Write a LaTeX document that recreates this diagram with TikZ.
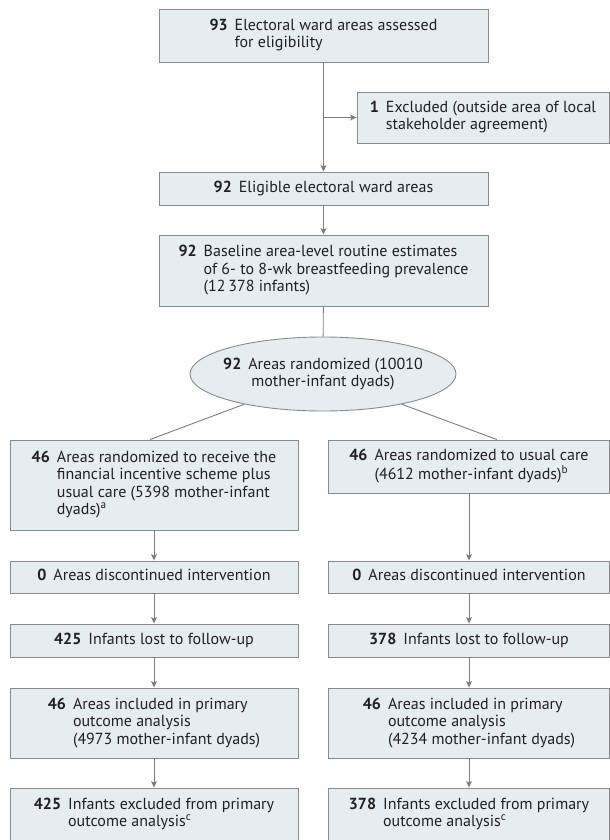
\documentclass[tikz,border=0pt]{standalone}
\usepackage{fontspec}
\setmainfont{PT Sans}
\usepackage{tikz}
\usetikzlibrary{arrows.meta,shapes.geometric}

\definecolor{boxfill}{RGB}{230,237,241}
\definecolor{boxline}{RGB}{138,138,138}
\definecolor{linkgray}{RGB}{125,125,125}
\definecolor{txtcol}{RGB}{35,31,32}

% bold count, then the text lines hanging beside it
\newcommand{\cnt}[2]{\textbf{#1}\hspace{7bp}\begin{tabular}[t]{@{}l@{}}#2\end{tabular}}

\begin{document}
\begin{tikzpicture}[x=1bp, y=-1bp,
	font=\fontsize{16bp}{17.5bp}\selectfont, text=txtcol,
	box/.style={draw=boxline, fill=boxfill, line width=0.9bp, inner sep=0pt},
	oval/.style={ellipse, draw=boxline, fill=boxfill, line width=0.9bp, inner xsep=-8bp, inner ysep=0pt, align=center},
	link/.style={every edge/.style={draw=linkgray, line width=0.9bp, -{Stealth[length=6.5bp, width=6bp, inset=1.5bp]}}},
	plain/.style={every edge/.style={draw=linkgray, line width=0.9bp}}]
\useasboundingbox (0,0) rectangle (610,840);

\node[box, minimum width=329bp, minimum height=53bp] (top) at (323.5,35.5)
	{\cnt{93}{Electoral ward areas assessed\\for eligibility}};
\node[box, minimum width=252bp, minimum height=51bp] (excl) at (483,117.5)
	{\cnt{1}{Excluded (outside area of local\\stakeholder agreement)}};
\node[box, minimum width=329bp, minimum height=33bp] (elig) at (323.5,188.5)
	{\cnt{92}{Eligible electoral ward areas}};
\node[box, minimum width=329bp, minimum height=71bp] (base) at (323.5,270.5)
	{\cnt{92}{Baseline area-level routine estimates\\of 6- to 8-wk breastfeeding prevalence\\(12\,378 infants)}};
\node[oval, minimum width=266bp, minimum height=74bp] (rand) at (323,374)
	{\textbf{92}\hspace{7bp}Areas randomized (10010\\mother-infant dyads)};

\node[box, minimum width=288bp, minimum height=90bp] (l46) at (154,485)
	{\cnt{46}{Areas randomized to receive the\\financial incentive scheme plus\\usual care (5398 mother-infant\\dyads)\textsuperscript{a}}};
\node[box, minimum width=281bp, minimum height=53bp] (r46) at (469,466.5)
	{\cnt{46}{Areas randomized to usual care\\(4612 mother-infant dyads)\textsuperscript{b}}};

\node[box, minimum width=288bp, minimum height=32bp] (l0) at (154,577)
	{\cnt{0}{Areas discontinued intervention}};
\node[box, minimum width=281bp, minimum height=32bp] (r0) at (469,577)
	{\cnt{0}{Areas discontinued intervention}};
\node[box, minimum width=288bp, minimum height=33bp] (llost) at (154,640.5)
	{\cnt{425}{Infants lost to follow-up}};
\node[box, minimum width=281bp, minimum height=33bp] (rlost) at (469,640.5)
	{\cnt{378}{Infants lost to follow-up}};
\node[box, minimum width=288bp, minimum height=70bp] (lincl) at (154,723)
	{\cnt{46}{Areas included in primary\\outcome analysis\\(4973 mother-infant dyads)}};
\node[box, minimum width=281bp, minimum height=70bp] (rincl) at (469,723)
	{\cnt{46}{Areas included in primary\\outcome analysis\\(4234 mother-infant dyads)}};
\node[box, minimum width=288bp, minimum height=53bp] (lexcl) at (154,814.5)
	{\cnt{425}{Infants excluded from primary\\outcome analysis\textsuperscript{c}}};
\node[box, minimum width=281bp, minimum height=53bp] (rexcl) at (469,814.5)
	{\cnt{378}{Infants excluded from primary\\outcome analysis\textsuperscript{c}}};

\coordinate (split) at (323.5,117.5);

\path[link]
(top) edge (elig)
(split) edge (excl)
(elig) edge (base)
(l46) edge (l0)
(l0) edge (llost)
(llost) edge (lincl)
(lincl) edge (lexcl)
(r46) edge (r0)
(r0) edge (rlost)
(rlost) edge (rincl)
(rincl) edge (rexcl)
;
\path[plain]
(base) edge (rand)
(rand.201) edge ([xshift=-4bp]l46.north)
(rand.339) edge ([xshift=28bp]r46.north)
;
\end{tikzpicture}
\end{document}
